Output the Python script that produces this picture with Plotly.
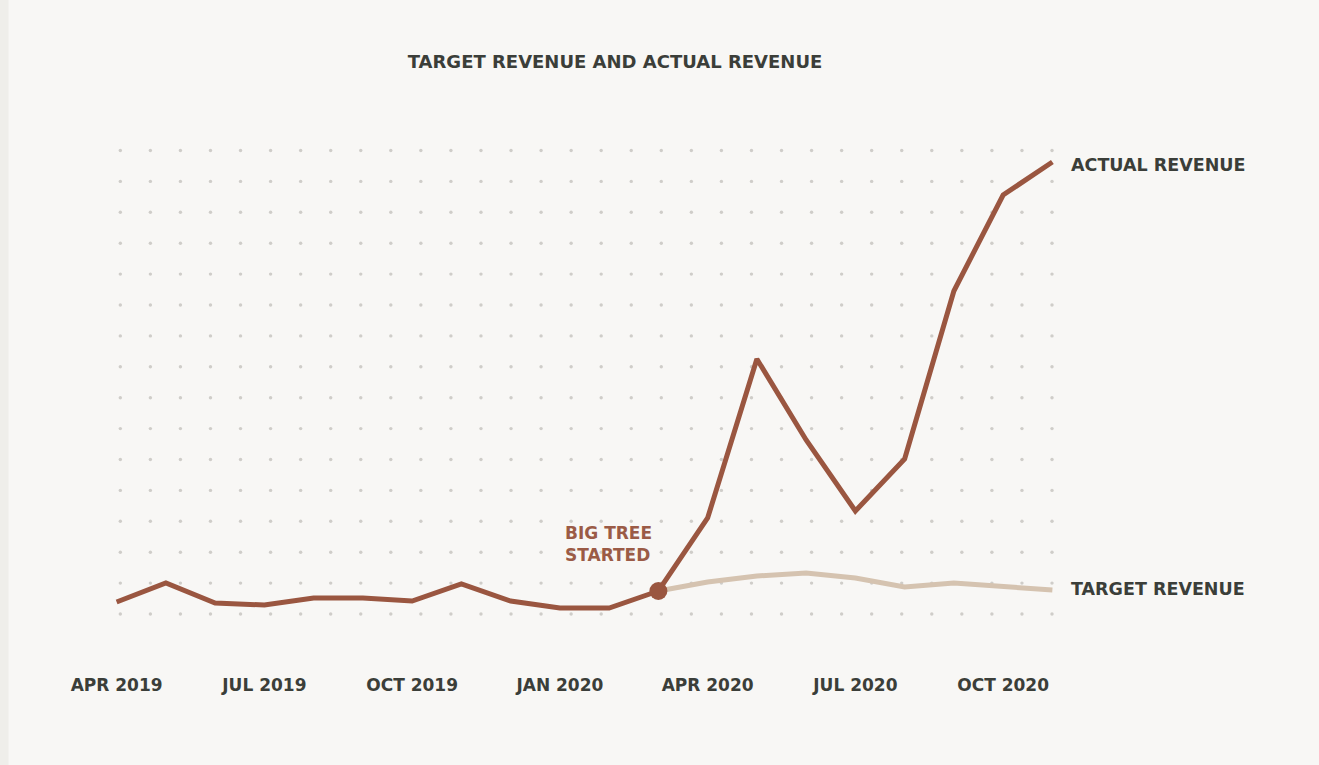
import numpy as np
import plotly.graph_objects as go

# ---- data (revenue, $k) ----
months = ["2019-04", "2019-05", "2019-06", "2019-07", "2019-08", "2019-09", "2019-10",
          "2019-11", "2019-12", "2020-01", "2020-02", "2020-03", "2020-04", "2020-05",
          "2020-06", "2020-07", "2020-08", "2020-09", "2020-10", "2020-11"]
actual_revenue = [14, 23.5, 13.5, 12.5, 16, 16, 14.5, 23, 14.5, 11, 11, 19.5,
                  56, 135.5, 95, 59.5, 85.5, 169.5, 217.5, 234]
target_months = months[11:]
target_revenue = [19.5, 24, 27, 28.5, 26, 21.5, 23.5, 22, 20]
tick_months = ["2019-04", "2019-07", "2019-10", "2020-01", "2020-04", "2020-07", "2020-10"]
tick_labels = ["APR 2019", "JUL 2019", "OCT 2019", "JAN 2020", "APR 2020", "JUL 2020", "OCT 2020"]
start_month = "2020-03"
start_value = 19.5

BROWN = "#9a5640"
TAN = "#d5c3b0"
DARK = "#3b3e39"
BG = "#f8f7f5"
FONT = "DejaVu Sans"

idx = {m: i for i, m in enumerate(months)}
x_actual = [idx[m] for m in months]
x_target = [idx[m] for m in target_months]

# decorative dot grid on the base axis (grid units), drawn beneath the data axes
gx, gy = np.meshgrid(np.arange(32), np.arange(16))

fig = go.Figure()

fig.add_trace(go.Scatter(
    x=gx.ravel(), y=gy.ravel(), xaxis="x", yaxis="y", mode="markers",
    marker=dict(size=3.4, color="#cfcdc9"), hoverinfo="skip", showlegend=False))

fig.add_trace(go.Scatter(
    x=x_target, y=target_revenue, xaxis="x2", yaxis="y2", mode="lines",
    line=dict(color=TAN, width=5), showlegend=False, cliponaxis=False))

fig.add_trace(go.Scatter(
    x=x_actual, y=actual_revenue, xaxis="x2", yaxis="y2", mode="lines",
    line=dict(color=BROWN, width=5), showlegend=False, cliponaxis=False))

fig.add_trace(go.Scatter(
    x=[idx[start_month]], y=[start_value], xaxis="x2", yaxis="y2", mode="markers",
    marker=dict(size=18, color=BROWN), showlegend=False, cliponaxis=False))

# end labels
fig.add_annotation(x=x_actual[-1], y=actual_revenue[-1], xref="x2", yref="y2",
                   text="ACTUAL REVENUE",
                   xanchor="left", yanchor="middle", xshift=17, yshift=-3, showarrow=False,
                   font=dict(family=FONT, size=17.5, color=DARK, weight="bold"))
fig.add_annotation(x=x_target[-1], y=target_revenue[-1], xref="x2", yref="y2",
                   text="TARGET REVENUE",
                   xanchor="left", yanchor="middle", xshift=17, yshift=1, showarrow=False,
                   font=dict(family=FONT, size=17.5, color=DARK, weight="bold"))
fig.add_annotation(x=idx[start_month], y=start_value, xref="x2", yref="y2",
                   text="BIG TREE<br>STARTED",
                   xanchor="right", yanchor="bottom", xshift=-4, yshift=24, showarrow=False,
                   align="left",
                   font=dict(family=FONT, size=17, color="#9b5b46", weight="bold"))

# left strip
fig.add_shape(type="rect", xref="paper", yref="paper", x0=-0.2, x1=(9 - 92.4) / 984.2,
              y0=-0.5, y1=1.6, fillcolor="#efeeea", line_width=0, layer="below")

fig.update_layout(
    width=1319, height=765,
    margin=dict(l=92, r=242, t=130, b=135),
    paper_bgcolor=BG, plot_bgcolor=BG,
    title=dict(text="TARGET REVENUE AND ACTUAL REVENUE", x=615 / 1319, xanchor="center",
               xref="container", y=1 - 62 / 765, yanchor="middle", yref="container",
               font=dict(family=FONT, size=18, color=DARK, weight="bold")),
    xaxis=dict(range=[(92.4 - 120.7) / 30.03, (1076.6 - 120.7) / 30.03], visible=False),
    yaxis=dict(range=[(614 - 630) / 30.9, (614 - 130) / 30.9], visible=False),
    xaxis2=dict(overlaying="x", side="bottom", range=[-0.5, 19.5],
                tickvals=[idx[m] for m in tick_months], ticktext=tick_labels,
                showgrid=False, zeroline=False, showline=False, ticks="",
                ticklabelstandoff=43,
                tickfont=dict(family=FONT, size=17, color=DARK, weight="bold")),
    yaxis2=dict(overlaying="y", range=[0, 250], showgrid=False, zeroline=False,
                showline=False, showticklabels=False, ticks=""),
    showlegend=False,
)

fig.write_html("out.html")
